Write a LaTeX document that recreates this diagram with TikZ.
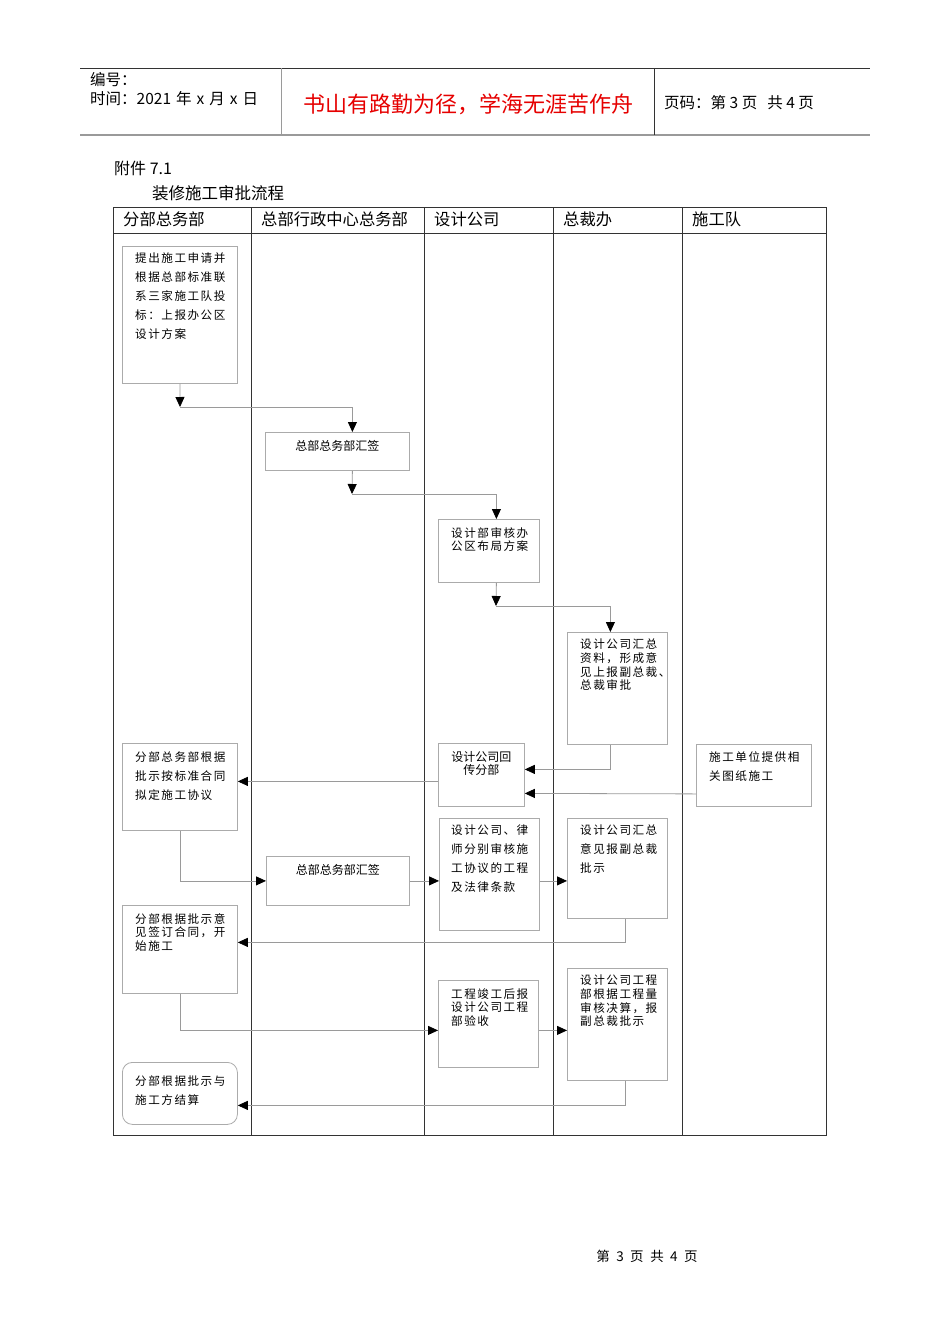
\documentclass[tikz,border=0pt]{standalone}
\usepackage{fontspec}
\newfontfamily\cjk{Noto Sans CJK SC}
\newfontfamily\cjkw[LetterSpace=13]{Noto Sans CJK SC}
\usetikzlibrary{arrows.meta,positioning,calc}

\definecolor{boxgray}{HTML}{ABABAB}
\definecolor{linegray}{HTML}{9A9A9A}
\definecolor{lanegray}{HTML}{333333}
\definecolor{mottored}{HTML}{E60000}

\begin{document}
\begin{tikzpicture}[x=1pt, y=-1pt, >={Triangle[length=10pt,width=9pt,color=black]}]
\tikzstyle{stepbox}=[draw=boxgray, line width=0.8pt, anchor=north west, inner sep=0pt]
\tikzstyle{flow}=[->, draw=linegray, line width=0.8pt]
\tikzstyle{boxtext}=[anchor=north west, inner sep=0pt, align=left, font=\cjkw\fontsize{11.6}{19}\selectfont]
\tikzstyle{tighttext}=[boxtext, font=\cjkw\fontsize{11.6}{13.6}\selectfont]
\tikzstyle{plaintext}=[anchor=north, inner sep=0pt, align=center, font=\cjk\fontsize{12}{13}\selectfont]
\tikzstyle{lanehead}=[anchor=west, inner sep=0pt, font=\cjk\fontsize{16.3}{18}\selectfont]
\useasboundingbox[fill=white] (0,0) rectangle (950,1344);

% page header
\draw[lanegray, line width=0.9pt] (80,68) -- (870,68);
\draw[linegray, line width=1.8pt] (80,135) -- (870,135);
\draw[linegray, line width=0.9pt] (281,68) -- (281,135);
\draw[lanegray, line width=0.9pt] (654,68) -- (654,135);
\node[anchor=west, inner sep=0pt, font=\cjk\fontsize{15.5}{17}\selectfont] (code)  at (90,80) {编号：};
\node[anchor=west, inner sep=0pt, font=\cjk\fontsize{15.5}{17}\selectfont] (date)  at (90,99) {时间：2021\hspace{5pt}年\hspace{5pt}x\hspace{5pt}月\hspace{5pt}x\hspace{5pt}日};
\node[inner sep=0pt, text=mottored, font=\cjk\fontsize{22}{24}\selectfont] (motto) at (468,104) {书山有路勤为径，学海无涯苦作舟};
\node[anchor=west, inner sep=0pt, font=\cjk\fontsize{15.5}{17}\selectfont] (pageno) at (664,103) {页码：第\hspace{3.5pt}3\hspace{3.5pt}页\hspace{10pt}共\hspace{3.5pt}4\hspace{3.5pt}页};

% title
\node[anchor=west, inner sep=0pt, font=\cjk\fontsize{16}{18}\selectfont] (annex) at (114,168) {附件 7.1};
\node[anchor=west, inner sep=0pt, font=\cjk\fontsize{16.5}{18}\selectfont] (title) at (152,193) {装修施工审批流程};

% swimlanes
\draw[lanegray, line width=1pt] (113,207) rectangle (826,1135);
\draw[lanegray, line width=1pt] (113,233) -- (826,233);
\foreach \lx in {251,424,553,682}
  \draw[lanegray, line width=1pt] (\lx,207) -- (\lx,1135);
\node[lanehead] (lane1) at (123,219) {分部总务部};
\node[lanehead] (lane2) at (261,219) {总部行政中心总务部};
\node[lanehead] (lane3) at (434,219) {设计公司};
\node[lanehead] (lane4) at (563,219) {总裁办};
\node[lanehead] (lane5) at (692,219) {施工队};

% boxes
\node[stepbox, minimum width=115pt, minimum height=137pt] (b1)  at (122,246)  {};
\node[stepbox, minimum width=144pt, minimum height=38pt]  (b2)  at (265,432)  {};
\node[stepbox, minimum width=101pt, minimum height=63pt]  (b3)  at (438,519)  {};
\node[stepbox, minimum width=100pt, minimum height=112pt] (b4)  at (567,632)  {};
\node[stepbox, minimum width=86pt,  minimum height=63pt]  (b5)  at (438,743)  {};
\node[stepbox, minimum width=115pt, minimum height=62pt]  (b6)  at (696,744)  {};
\node[stepbox, minimum width=115pt, minimum height=87pt]  (b7)  at (122,743)  {};
\node[stepbox, minimum width=143pt, minimum height=49pt]  (b8)  at (266,856)  {};
\node[stepbox, minimum width=100pt, minimum height=112pt] (b9)  at (439,818)  {};
\node[stepbox, minimum width=100pt, minimum height=100pt] (b10) at (567,818)  {};
\node[stepbox, minimum width=115pt, minimum height=88pt]  (b11) at (122,905)  {};
\node[stepbox, minimum width=100pt, minimum height=87pt]  (b12) at (438,980)  {};
\node[stepbox, minimum width=100pt, minimum height=112pt] (b13) at (567,968)  {};
\node[stepbox, minimum width=115pt, minimum height=62pt, rounded corners=10pt] (b14) at (122,1062) {};

% box texts
\node[boxtext]   (t1)  at (135,253) {提出施工申请并\\根据总部标准联\\系三家施工队投\\标：上报办公区\\设计方案};
\node[plaintext] (t2)  at ([yshift=-8pt]b2.north) {总部总务部汇签};
\node[tighttext] (t3)  at (451,527) {设计部审核办\\公区布局方案};
\node[tighttext] (t4)  at (580,639) {设计公司汇总\\资料，形成意\\见上报副总裁、\\总裁审批};
\node[plaintext] (t5)  at ([yshift=-8pt]b5.north) {设计公司回\\传分部};
\node[boxtext]   (t6)  at (709,751) {施工单位提供相\\关图纸施工};
\node[boxtext]   (t7)  at (135,751) {分部总务部根据\\批示按标准合同\\拟定施工协议};
\node[plaintext] (t8)  at ([yshift=-8pt]b8.north) {总部总务部汇签};
\node[boxtext]   (t9)  at (451,825) {设计公司、律\\师分别审核施\\工协议的工程\\及法律条款};
\node[boxtext]   (t10) at (580,825) {设计公司汇总\\意见报副总裁\\批示};
\node[tighttext] (t11) at (135,913) {分部根据批示意\\见签订合同，开\\始施工};
\node[tighttext] (t12) at (451,988) {工程竣工后报\\设计公司工程\\部验收};
\node[tighttext] (t13) at (580,975) {设计公司工程\\部根据工程量\\审核决算，报\\副总裁批示};
\node[boxtext]   (t14) at (135,1075) {分部根据批示与\\施工方结算};

% bends
\coordinate (j1) at (180,407);
\coordinate (j2) at (352,494);
\coordinate (j3) at (496,606);

% connectors
\draw[flow] (b1.south) -- (j1);
\draw[flow] (j1) -| ([xshift=15pt]b2.north);
\draw[flow] ([xshift=15pt]b2.south) -- (j2);
\draw[flow] (j2) -| ([xshift=7.5pt]b3.north);
\draw[flow] ([xshift=7.5pt]b3.south) -- (j3);
\draw[flow] (j3) -| ([xshift=-7pt]b4.north);
\draw[flow] ([xshift=-7pt]b4.south) |- ([yshift=5.5pt]b5.east);
\draw[flow] ([yshift=-18.5pt]b6.west) -- ([yshift=-18.5pt]b5.east);
\draw[flow] ([yshift=-6.5pt]b5.west) -- ([yshift=-6.5pt]b5.west -| b7.east);
\draw[flow] (b7.south) |- (b8.west);
\draw[flow] (b8.east) -- (b8.east -| b9.west);
\draw[flow] (b8.east -| b9.east) -- (b8.east -| b10.west);
\draw[flow] ([xshift=8pt]b10.south) |- ([yshift=7pt]b11.east);
\draw[flow] (b11.south) |- ([yshift=-6.5pt]b12.west);
\draw[flow] ([yshift=-6.5pt]b12.east) -- ([yshift=-6.5pt]b12.east -| b13.west);
\draw[flow] ([xshift=8pt]b13.south) |- ([yshift=-12pt]b14.east);

% footer
\node[inner sep=0pt, font=\cjk\fontsize{13.5}{15}\selectfont] (footer) at (647,1256) {第\hspace{6.5pt}3\hspace{6.5pt}页\hspace{6.5pt}共\hspace{6.5pt}4\hspace{6.5pt}页};
\end{tikzpicture}
\end{document}
